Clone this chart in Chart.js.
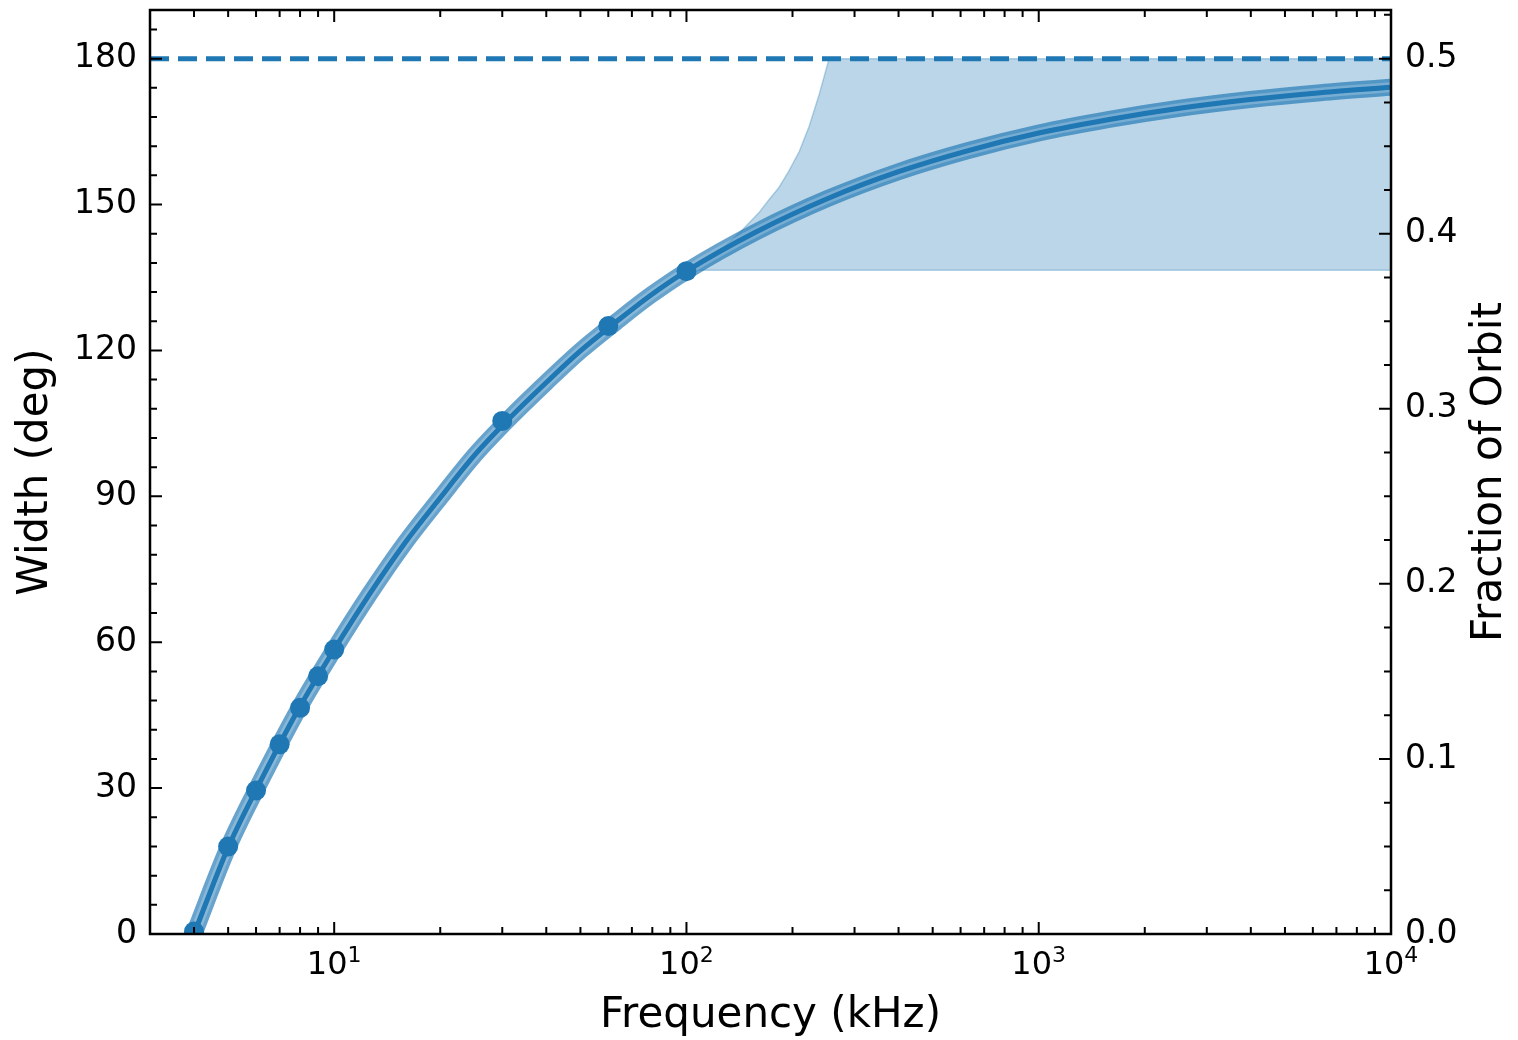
<!DOCTYPE html>
<html>
<head>
<meta charset="utf-8">
<title>Width vs Frequency</title>
<script src="https://cdn.jsdelivr.net/npm/chart.js@4.4.1/dist/chart.umd.min.js"></script>
<style>
  html, body { margin: 0; padding: 0; background: #fff; }
  #chart { display: block; }
</style>
</head>
<body>
<canvas id="chart" width="1518" height="1040"></canvas>
<script>
// Model curve
const curveFreq = [4, 5, 6.3, 7.9, 10, 12.6, 15.8, 20, 25, 31.6, 40, 50, 63, 79, 100,
    158, 251, 398, 631, 1000, 1585, 2512, 3981, 6310, 10000];
const curveWidth = [0, 17.8, 32.6, 46.1, 58.5, 69.9, 80.2, 89.7, 98.4, 106.2, 113.4, 119.9, 125.8, 131.3, 136.3,
    144.4, 151.2, 156.7, 161.1, 164.7, 167.5, 169.8, 171.6, 173, 174.1];

// Measured points
const pointFreq = [4, 5, 6, 7, 8, 9, 10, 30, 60, 100];
const pointWidth = [0.5, 18, 29.5, 39, 46.5, 53, 58.5, 105.5, 125, 136.3];

// Shaded region above 100 kHz
const shadeFreq = [100, 108, 116, 124, 132, 141, 150, 161, 171, 183, 195, 209, 223, 238, 254, 10000];
const shadeUpper = [136.3, 137.9, 139.2, 140.6, 142.2, 144.1, 146.1, 148.4, 150.9, 153.5, 156.8, 160.9, 166.1, 172.6, 180, 180];
const shadeLower = 136.5;

// Half orbit line
const halfOrbitWidth = 180;

// Axis ticks
const widthTicks = [0, 30, 60, 90, 120, 150, 180];
const fractionTicks = [0, 0.1, 0.2, 0.3, 0.4, 0.5];
const freqTicks = [10, 100, 1000, 10000];
const freqTickExponents = ['1', '2', '3', '4'];

const C0 = '#1f77b4';
const FONT = 'DejaVu Sans';
const widthMax = 190;
const freqMin = 3;
const freqMax = 10000;

const xy = (xs, ys) => xs.map((v, i) => ({ x: v, y: ys[i] }));

// Minor ticks on a log axis (2..9 in every decade)
function minorLogValues(min, max) {
    const out = [];
    for (let d = 1; d < max; d *= 10) {
        for (let m = 2; m <= 9; m++) {
            const v = m * d;
            if (v > min && v < max) out.push(v);
        }
    }
    return out;
}

function minorLinValues(step, max) {
    const out = [];
    for (let i = 0; i * step <= max + 1e-9; i++) out.push(i * step);
    return out;
}

// Frame, inward ticks, x labels with exponents, axis titles
const axisDecor = {
    id: 'axisDecor',
    afterDraw(chart) {
        const { ctx, chartArea: a, scales: { x, y, y2 } } = chart;
        const MAJOR = 12, MINOR = 7;
        ctx.save();
        ctx.strokeStyle = '#000';
        ctx.lineWidth = 2;
        ctx.beginPath();

        const vtick = (px, len) => {
            ctx.moveTo(px, a.bottom); ctx.lineTo(px, a.bottom - len);
            ctx.moveTo(px, a.top); ctx.lineTo(px, a.top + len);
        };
        freqTicks.forEach(v => vtick(x.getPixelForValue(v), MAJOR));
        minorLogValues(freqMin, freqMax).forEach(v => vtick(x.getPixelForValue(v), MINOR));

        const ltick = (py, len) => { ctx.moveTo(a.left, py); ctx.lineTo(a.left + len, py); };
        widthTicks.forEach(v => ltick(y.getPixelForValue(v), MAJOR));
        minorLinValues(6, widthMax).forEach(v => ltick(y.getPixelForValue(v), MINOR));

        const rtick = (py, len) => { ctx.moveTo(a.right, py); ctx.lineTo(a.right - len, py); };
        fractionTicks.forEach(v => rtick(y2.getPixelForValue(v), MAJOR));
        minorLinValues(0.025, widthMax / 360).forEach(v => rtick(y2.getPixelForValue(v), MINOR));
        ctx.stroke();

        ctx.lineWidth = 2.5;
        ctx.strokeRect(a.left, a.top, a.right - a.left, a.bottom - a.top);

        // x tick labels: 10 with superscript exponent
        ctx.fillStyle = '#000';
        ctx.textBaseline = 'alphabetic';
        ctx.textAlign = 'left';
        freqTicks.forEach((v, i) => {
            const px = x.getPixelForValue(v);
            ctx.font = `32px "${FONT}"`;
            const bw = ctx.measureText('10').width;
            ctx.font = `22px "${FONT}"`;
            const ew = ctx.measureText(freqTickExponents[i]).width;
            const left = px - (bw + ew) / 2;
            ctx.font = `32px "${FONT}"`;
            ctx.fillText('10', left, a.bottom + 40);
            ctx.font = `22px "${FONT}"`;
            ctx.fillText(freqTickExponents[i], left + bw, a.bottom + 28);
        });

        // axis titles
        ctx.font = `42px "${FONT}"`;
        ctx.textAlign = 'center';
        ctx.fillText('Frequency (kHz)', (a.left + a.right) / 2, 1027);

        const midY = (a.top + a.bottom) / 2;
        [[47, 'Width (deg)'], [1501, 'Fraction of Orbit']].forEach(([bx, text]) => {
            ctx.save();
            ctx.translate(bx, midY);
            ctx.rotate(-Math.PI / 2);
            ctx.fillText(text, 0, 0);
            ctx.restore();
        });
        ctx.restore();
    }
};

const line = (data, extra) => Object.assign({
    data,
    showLine: true,
    pointRadius: 0,
    fill: false,
    clip: 0,
    cubicInterpolationMode: 'monotone',
    borderCapStyle: 'round'
}, extra);

const chart = new Chart(document.getElementById('chart'), {
    type: 'scatter',
    data: {
        datasets: [
            // measured points
            {
                data: xy(pointFreq, pointWidth),
                pointRadius: 10,
                pointBackgroundColor: C0,
                pointBorderWidth: 0,
                clip: 0,
                order: 0
            },
            // model curve
            line(xy(curveFreq, curveWidth), { borderColor: C0, borderWidth: 5, order: 1 }),
            // uncertainty band around the curve
            line(xy(curveFreq, curveWidth), { borderColor: 'rgba(255,255,255,0.22)', borderWidth: 10, order: 2 }),
            line(xy(curveFreq, curveWidth), { borderColor: 'rgba(31,119,180,0.68)', borderWidth: 17, order: 3 }),
            // 180 deg dashed line
            line(xy([freqMin, freqMax], [halfOrbitWidth, halfOrbitWidth]), {
                borderColor: C0, borderWidth: 5, borderDash: [19, 9], borderCapStyle: 'butt', order: 4
            }),
            // shaded region
            line(xy([shadeFreq[0], freqMax], [shadeLower, shadeLower]), {
                borderColor: 'rgba(31,119,180,0.3)', borderWidth: 1.5, order: 5
            }),
            line(xy(shadeFreq, shadeUpper), {
                borderColor: 'rgba(31,119,180,0.3)', borderWidth: 1.5,
                backgroundColor: 'rgba(31,119,180,0.3)',
                cubicInterpolationMode: 'default',
                tension: 0,
                fill: { value: shadeLower },
                order: 6
            })
        ]
    },
    options: {
        responsive: false,
        animation: false,
        layout: { padding: { top: 8, left: 0, right: 0, bottom: 0 } },
        plugins: { legend: { display: false }, tooltip: { enabled: false } },
        scales: {
            x: {
                type: 'logarithmic',
                position: 'bottom',
                min: freqMin,
                max: freqMax,
                grid: { display: false, drawTicks: false },
                border: { display: false },
                ticks: { display: false },
                afterFit: s => { s.height = 106; s.paddingLeft = 0; s.paddingRight = 0; }
            },
            y: {
                type: 'linear',
                position: 'left',
                min: 0,
                max: widthMax,
                grid: { display: false, drawTicks: false },
                border: { display: false },
                ticks: { color: '#000', padding: 13, includeBounds: false, font: { family: FONT, size: 33 } },
                afterBuildTicks: s => { s.ticks = widthTicks.map(v => ({ value: v })); },
                afterFit: s => { s.width = 150; s.paddingTop = 0; s.paddingBottom = 0; }
            },
            y2: {
                type: 'linear',
                position: 'right',
                min: 0,
                max: widthMax / 360,
                grid: { display: false, drawTicks: false },
                border: { display: false },
                ticks: {
                    color: '#000', padding: 14, includeBounds: false,
                    font: { family: FONT, size: 33 },
                    callback: v => v.toFixed(1)
                },
                afterBuildTicks: s => { s.ticks = fractionTicks.map(v => ({ value: v })); },
                afterFit: s => { s.width = 127; s.paddingTop = 0; s.paddingBottom = 0; }
            }
        }
    },
    plugins: [axisDecor]
});
</script>
</body>
</html>
